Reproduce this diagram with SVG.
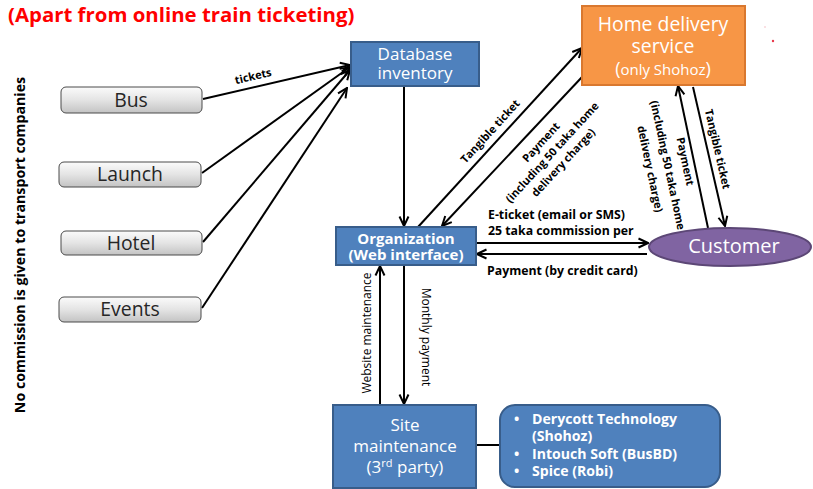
<svg xmlns="http://www.w3.org/2000/svg" width="813" height="489" viewBox="0 0 813 489">
<defs>
<linearGradient id="gray" x1="0" y1="0" x2="0" y2="1">
<stop offset="0" stop-color="#fbfbfb"/>
<stop offset="0.5" stop-color="#e4e4e4"/>
<stop offset="1" stop-color="#c3c3c3"/>
</linearGradient>
<marker id="arr" viewBox="0 0 12 12" refX="11" refY="6" markerWidth="12" markerHeight="12" orient="auto" markerUnits="userSpaceOnUse">
<path d="M1.5,1.5 L11,6 L1.5,10.5" fill="none" stroke="#000" stroke-width="2" stroke-linejoin="miter"/>
</marker>
</defs>
<style>
text{font-family:"Open Sans","Noto Sans","Liberation Sans",sans-serif}
.gbox{fill:url(#gray);stroke:#4a4a4a;stroke-width:1}
.gtxt{font-size:19.4px;fill:#262626;text-anchor:middle}
.blue{fill:#4F81BD;stroke:#385D8A;stroke-width:2}
.wt{fill:#fff;text-anchor:middle}
.lbl{font-size:11px;font-weight:bold;fill:#000;text-anchor:middle}
.lbs{font-size:12.3px;font-weight:bold;fill:#000;text-anchor:start}
.vl{font-size:12px;fill:#000;text-anchor:middle}
.ln{stroke:#000;stroke-width:2;fill:none}
.ar{stroke:#000;stroke-width:2;fill:none;marker-end:url(#arr)}
.pv{fill:#fff;font-size:14.1px;font-weight:bold}
</style>
<rect width="813" height="489" fill="#fff"/>

<text x="8" y="22" font-size="20.4" font-weight="bold" fill="#FF0000">(Apart from online train ticketing)</text>
<text transform="translate(25,245) rotate(-90)" font-size="14.2" font-weight="bold" fill="#000" text-anchor="middle">No commission is given to transport companies</text>

<g id="connectors">
<path class="ar" d="M203,99 L350,65"/>
<path class="ar" d="M202,173 L350,67"/>
<path class="ar" d="M203,242 L350,70"/>
<path class="ar" d="M202,308 L347,88"/>
<path class="ar" d="M404,87 L404,226"/>
<path class="ar" d="M418,227 L582,48"/>
<path class="ar" d="M582,77 L442,226"/>
<path class="ar" d="M476,243 L648,243"/>
<path class="ar" d="M647,254 L477,254"/>
<path class="ar" d="M708,228 L678,86"/>
<path class="ar" d="M693,87 L725,226"/>
<path class="ar" d="M380,405 L380,266"/>
<path class="ar" d="M404,266 L404,404"/>
<path class="ln" d="M476,445 L500,445"/>
<text class="lbl" transform="translate(254,80) rotate(-13)">tickets</text>
<text class="lbl" transform="translate(493,134) rotate(-47.5)">Tangible ticket</text>
<text class="lbl" transform="translate(555,155) rotate(-47.5)"><tspan x="0" y="-15">Payment</tspan><tspan x="0" y="0">(including 50 taka home</tspan><tspan x="0" y="15">delivery charge)</tspan></text>
<text class="lbl" transform="translate(664,166) rotate(78)"><tspan x="0" y="-18">Payment</tspan><tspan x="0" y="0">(including 50 taka home</tspan><tspan x="0" y="18">delivery charge)</tspan></text>
<text class="lbl" transform="translate(714,150) rotate(77)">Tangible ticket</text>
<text class="lbs" x="488" y="219">E-ticket (email or SMS)</text>
<text class="lbs" x="488" y="235">25 taka commission per</text>
<text class="lbs" x="487" y="275">Payment (by credit card)</text>
<text class="vl" transform="translate(371,333) rotate(-90)">Website maintenance</text>
<text class="vl" font-size="11.5" transform="translate(422,337) rotate(90)">Monthly payment</text>
</g>

<g id="bus"><rect class="gbox" x="61" y="87" width="141" height="26" rx="5"/><text class="gtxt" x="131" y="107">Bus</text></g>
<g id="launch"><rect class="gbox" x="59" y="162" width="142" height="25" rx="5"/><text class="gtxt" x="130" y="181">Launch</text></g>
<g id="hotel"><rect class="gbox" x="61" y="231" width="141" height="24" rx="5"/><text class="gtxt" x="131" y="250">Hotel</text></g>
<g id="events"><rect class="gbox" x="59" y="297" width="142" height="25" rx="5"/><text class="gtxt" x="130" y="316">Events</text></g>

<g id="database"><rect class="blue" x="351" y="42" width="128" height="44"/><text class="wt" font-size="17" x="415" y="60">Database</text><text class="wt" font-size="17" x="415" y="79">inventory</text></g>

<g id="home"><rect x="582" y="6" width="163" height="79" fill="#F79646" stroke="#D9782F" stroke-width="2"/><text class="wt" font-size="19.4" x="663" y="31">Home delivery</text><text class="wt" font-size="19.4" x="663" y="53">service</text><text class="wt" font-size="15" x="663" y="75"><tspan font-size="18">(</tspan>only Shohoz<tspan font-size="18">)</tspan></text></g>

<g id="organization"><rect class="blue" x="336" y="227" width="140" height="38"/><text class="wt" font-size="15" font-weight="bold" x="406" y="244">Organization</text><text class="wt" font-size="15" font-weight="bold" x="406" y="260">(Web interface)</text></g>

<g id="customer"><ellipse cx="730" cy="247" rx="81" ry="19" fill="#8064A2" stroke="#5C4776" stroke-width="2"/><text class="wt" font-size="20" x="734" y="253">Customer</text></g>

<g id="site"><rect class="blue" x="333" y="405" width="143" height="83"/><text class="wt" font-size="17" x="405" y="431">Site</text><text class="wt" font-size="17" x="405" y="452">maintenance</text><text class="wt" font-size="17" x="405" y="473">(3<tspan font-size="11" dy="-6">rd</tspan><tspan dy="6"> party)</tspan></text></g>

<g id="providers"><rect class="blue" x="500" y="405" width="220" height="82" rx="15"/>
<text class="pv" x="514" y="424">•</text><text class="pv" x="532" y="424">Derycott Technology</text>
<text class="pv" x="532" y="441">(Shohoz)</text>
<text class="pv" x="514" y="459">•</text><text class="pv" x="532" y="459">Intouch Soft (BusBD)</text>
<text class="pv" x="514" y="476">•</text><text class="pv" x="532" y="476">Spice (Robi)</text>
</g>

<circle cx="773" cy="41" r="1.2" fill="#e8394a"/>
<circle cx="765" cy="27" r="0.8" fill="#f4b8c0"/>
</svg>
